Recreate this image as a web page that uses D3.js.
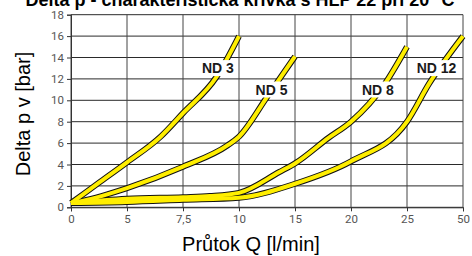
<!DOCTYPE html>
<html><head><meta charset="utf-8">
<script src="https://cdn.jsdelivr.net/npm/d3@7"></script>
<style>body{margin:0;background:#fff;overflow:hidden}svg{display:block}</style>
</head><body><svg id="c" width="472" height="256"></svg>
<script>
const title = "Delta p - charakteristická křivka s HLP 22 při 20 °C";
const xTicks = [0, 5, 7.5, 10, 15, 20, 25, 50];
const yTicks = [0, 2, 4, 6, 8, 10, 12, 14, 16, 18];
const seriesNames = ["ND 3", "ND 5", "ND 8", "ND 12"];
const nd3Q = [0, 2.5, 5, 6.5, 7.5, 9, 10];
const nd3P = [0.4, 2.3, 4.2, 6.6, 8.8, 12.2, 16];
const nd5Q = [0, 1, 5, 7.5, 9.5, 10, 12.5, 15];
const nd5P = [0.4, 0.6, 1.8, 3.8, 5.8, 6.6, 10.3, 14.1];
const nd8Q = [0, 5, 7.5, 8.7, 10, 13.6, 15, 18, 20, 23, 25];
const nd8P = [0.4, 0.8, 0.95, 1.05, 1.35, 3.3, 4.1, 6.5, 8.0, 11.5, 15];
const nd12Q = [0, 5, 7.5, 10, 15, 20, 25, 35, 50];
const nd12P = [0.4, 0.5, 0.7, 0.9, 2.2, 4.3, 8.0, 11.6, 16];
const labelQ = [9.06, 12.9, 22.4, 38.2];
const labelP = [13.0, 11.0, 11.0, 13.0];

const svg = d3.select("#c");
const L = 71, R = 463, T = 14.7, B = 207.3;
const x = d3.scaleLinear().domain(xTicks).range(xTicks.map((d, i) => L + i * (R - L) / (xTicks.length - 1)));
const y = d3.scaleLinear().domain([0, 18]).range([B, T]);

svg.append("text").attr("x", 240).attr("y", 6).attr("text-anchor", "middle")
  .attr("font-family", "Liberation Sans, Arial, sans-serif").attr("font-size", 18).attr("font-weight", "bold")
  .text(title);

// grid
svg.append("g").selectAll("line").data(yTicks).join("line")
  .attr("x1", L).attr("x2", R).attr("y1", d => y(d)).attr("y2", d => y(d))
  .attr("stroke", "#2a2a2a").attr("stroke-width", 1);
svg.append("g").selectAll("line").data(xTicks).join("line")
  .attr("y1", T).attr("y2", B).attr("x1", d => x(d)).attr("x2", d => x(d))
  .attr("stroke", "#444").attr("stroke-width", 1);

const yAxis = svg.append("g").attr("transform", `translate(${L},0)`)
  .call(d3.axisLeft(y).tickValues(yTicks).tickSize(4).tickPadding(3));
const xAxis = svg.append("g").attr("transform", `translate(0,${B})`)
  .call(d3.axisBottom(x).tickValues(xTicks).tickSize(4).tickPadding(4).tickFormat(d => String(d).replace(".", ",")));
[yAxis, xAxis].forEach(a => {
  a.select(".domain").attr("stroke", "#333");
  a.selectAll(".tick line").attr("stroke", "#333");
  a.selectAll("text").attr("fill", "#555").attr("font-size", 11.5)
    .attr("font-family", "Roboto, Liberation Sans, Arial, sans-serif");
});

svg.append("text").attr("transform", "translate(30,114) rotate(-90)").attr("text-anchor", "middle")
  .attr("font-family", "Liberation Sans, Arial, sans-serif").attr("font-size", 20).text("Delta p v [bar]");
svg.append("text").attr("x", 251).attr("y", 251).attr("text-anchor", "middle")
  .attr("font-family", "Liberation Sans, Arial, sans-serif").attr("font-size", 20).text("Průtok Q [l/min]");

const series = [[nd3Q, nd3P], [nd5Q, nd5P], [nd8Q, nd8P], [nd12Q, nd12P]]
  .map(([q, p]) => q.map((v, i) => [v, p[i]]));
const line = d3.line().x(d => x(d[0])).y(d => y(d[1])).curve(d3.curveMonotoneX);
const cg = svg.append("g");
cg.selectAll("path.o").data(series).join("path").attr("class", "o")
  .attr("d", line).attr("fill", "none").attr("stroke", "#111").attr("stroke-width", 6);
cg.selectAll("path.i").data(series).join("path").attr("class", "i")
  .attr("d", line).attr("fill", "none").attr("stroke", "#ffee00").attr("stroke-width", 4);

const lg = svg.append("g");
seriesNames.forEach((n, i) => {
  const g = lg.append("g").attr("transform", `translate(${x(labelQ[i])},${y(labelP[i])})`);
  const t = g.append("text").attr("text-anchor", "middle").attr("dy", "0.35em")
    .attr("font-family", "Liberation Sans, Arial, sans-serif").attr("font-size", 14).attr("font-weight", "bold")
    .attr("fill", "#1a1a1a").text(n);
  const bb = t.node().getBBox();
  g.insert("rect", "text").attr("x", bb.x - 2).attr("y", bb.y).attr("width", bb.width + 4).attr("height", bb.height)
    .attr("fill", "#fff");
});
</script></body></html>
